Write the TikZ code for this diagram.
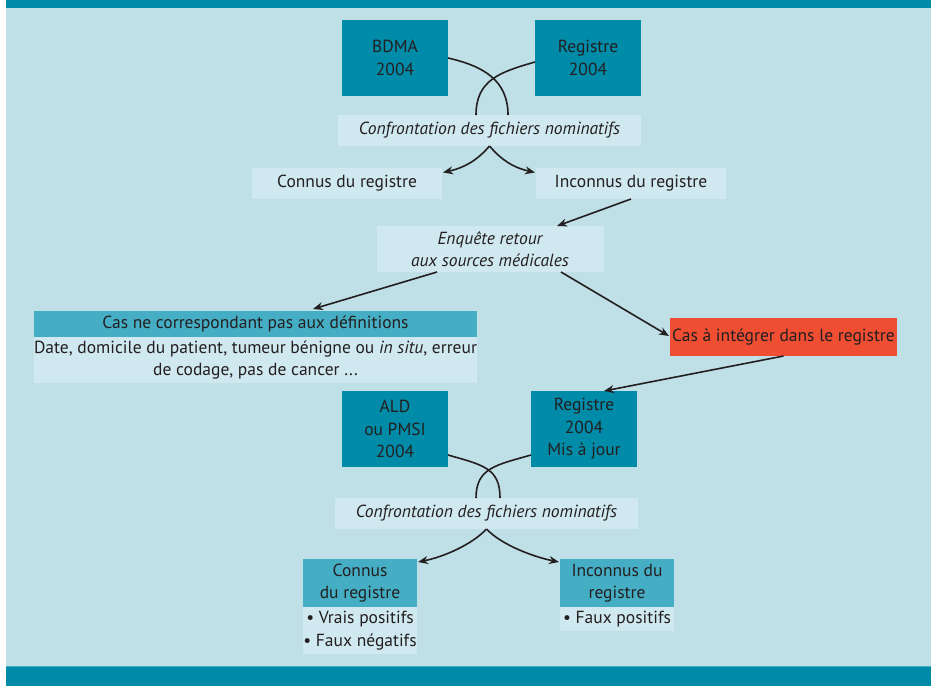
\documentclass[tikz,border=0pt]{standalone}
\usepackage{fontspec}
\setmainfont{PT Sans}
\usetikzlibrary{arrows.meta,calc}
\definecolor{panel}{HTML}{BFE0E6}
\definecolor{teal}{HTML}{008CA8}
\definecolor{lightbox}{HTML}{D0E8EF}
\definecolor{header}{HTML}{45AEC4}
\definecolor{redbox}{HTML}{F04E32}
\definecolor{ink}{HTML}{231F20}
\tikzset{
  base/.style={inner sep=0pt, outer sep=0pt, text=ink, align=center,
    font=\fontsize{17.5}{22.5}\selectfont},
  dark/.style={base, fill=teal, minimum width=106pt, minimum height=76pt},
  light/.style={base, fill=lightbox},
  head/.style={base, fill=header},
  red/.style={base, fill=redbox},
  conn/.style={draw=ink, line width=1.6pt, -{Stealth[length=10pt,width=8pt]}},
  curve/.style={draw=ink, line width=1.6pt}
}
\begin{document}
\begin{tikzpicture}[x=1pt,y=-1pt]
\useasboundingbox (0,0) rectangle (933,686);
\fill[white] (0,0) rectangle (933,686);
\fill[panel] (6,0) rectangle (931,686);
\fill[teal] (6,0) rectangle (931,8);
\fill[teal] (6,666) rectangle (931,686);
\draw[header, line width=1pt] (6,666.5) -- (931,666.5);

% top part
\node[dark] (bdma) at (395,58) {BDMA\\2004};
\node[dark] (reg) at (588,58) {Registre\\2004};
\node[light, minimum width=303pt, minimum height=31pt, font=\fontsize{17.5}{22.5}\selectfont\itshape] (conf1) at (489.5,130.5) {Confrontation des fichiers nominatifs};
\node[light, minimum width=190pt, minimum height=31pt] (con1) at (347,183.5) {Connus du registre};
\node[light, minimum width=190pt, minimum height=31pt] (incon1) at (631,183.5) {Inconnus du registre};
\node[light, minimum width=227pt, minimum height=46pt, font=\fontsize{17.5}{22.5}\selectfont\itshape] (enq) at (490,249) {Enquête retour\\aux sources médicales};
\node[head, minimum width=443pt, minimum height=26pt] (casne) at (255.5,324) {Cas ne correspondant pas aux définitions};
\node[light, minimum width=443pt, minimum height=46pt] (casnebody) at (255.5,360) {Date, domicile du patient, tumeur bénigne ou \textit{in situ}, erreur\\de codage, pas de cancer ...};
\node[red, minimum width=227pt, minimum height=38pt] (integ) at (783.5,337) {Cas à intégrer dans le registre};

% bottom part
\node[dark] (ald) at (395,429) {ALD\\ou PMSI\\2004};
\node[dark] (regmaj) at (584,429) {Registre\\2004\\Mis à jour};
\node[light, minimum width=303pt, minimum height=31pt, font=\fontsize{17.5}{22.5}\selectfont\itshape] (conf2) at (486.5,513.5) {Confrontation des fichiers nominatifs};
\node[head, minimum width=114pt, minimum height=48pt] (con2) at (360,583) {Connus\\du registre};
\node[light, minimum width=114pt, minimum height=47pt] (con2b) at (360,630.5) {\textbullet\ Vrais positifs\\\textbullet\ Faux négatifs};
\node[head, minimum width=114pt, minimum height=48pt] (incon2) at (617,583) {Inconnus du\\registre};
\node[light, minimum width=114pt, minimum height=24pt] (incon2b) at (617,619) {\textbullet\ Faux positifs};

% connectors top
\draw[curve] (bdma.east) .. controls +(35,8) and +(0,-35) .. ($(conf1.north)+(18.5,0)$);
\draw[curve] ($(reg.west)+(0,4)$) .. controls +(-35,10) and +(0,-35) .. ($(conf1.north)+(-13.5,0)$);
\draw[conn] (conf1.south) .. controls +(-12,14) and +(22,-5) .. ($(con1.east)+(1,-11)$);
\draw[conn] (conf1.south) .. controls +(12,14) and +(-22,-5) .. ($(incon1.west)+(-1,-11)$);
\draw[conn] (incon1.south) -- ($(enq.north)+(67,0)$);
\draw[conn] ($(enq.south)+(-53,0)$) -- ($(casne.north)+(57.5,-2)$);
\draw[conn] ($(enq.south)+(71,0)$) -- ($(integ.west)+(-1,-1)$);
\draw[conn] (integ.south) -- ($(regmaj.north)+(20,0)$);

% connectors bottom
\draw[curve] ($(ald.east)+(0,26)$) .. controls +(35,10) and +(0,-30) .. ($(conf2.north)+(13.5,0)$);
\draw[curve] ($(regmaj.west)+(0,26)$) .. controls +(-35,10) and +(0,-30) .. ($(conf2.north)+(-10.5,0)$);
\draw[conn] (conf2.south) .. controls +(-15,16) and +(25,-5) .. ($(con2.north east)+(1,3)$);
\draw[conn] (conf2.south) .. controls +(15,16) and +(-25,-5) .. ($(incon2.north west)+(-1,3)$);
\end{tikzpicture}
\end{document}
